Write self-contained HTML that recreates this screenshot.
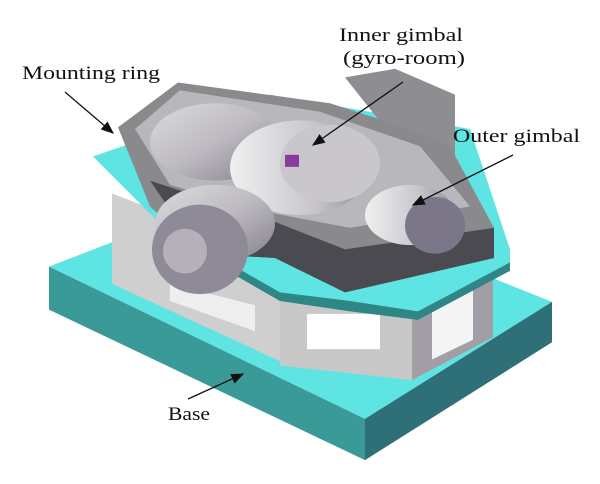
<!DOCTYPE html>
<html><head><meta charset="utf-8"><style>
html,body{margin:0;padding:0;background:#fff}
svg{display:block}
text{font-family:"Liberation Serif",serif;fill:#111}
</style></head><body>
<svg width="600" height="484" viewBox="0 0 600 484">
<defs>
<linearGradient id="cyl" x1="0" y1="0" x2="1" y2="1"><stop offset="0" stop-color="#dcdcdf"/><stop offset="0.5" stop-color="#bdbac1"/><stop offset="1" stop-color="#847f8a"/></linearGradient>
<linearGradient id="cyl2" x1="0" y1="0" x2="1" y2="0"><stop offset="0" stop-color="#f0f0f0"/><stop offset="0.6" stop-color="#c8c6cc"/><stop offset="1" stop-color="#918c99"/></linearGradient>
<marker id="ah" markerWidth="10" markerHeight="8" refX="9" refY="4" orient="auto"><path d="M0,0 L10,4 L0,8 Z" fill="#111"/></marker>
</defs>
<g transform="scale(1,0.86)">
<g>
<polygon points="49,310 260,215 552,351 365,487" fill="#5ee4e2"/>
<polygon points="49,310 365,487 365,535 49,360" fill="#3a9a98"/>
<polygon points="365,487 552,351 552,398 365,535" fill="#2f6f78"/>
</g>
<g>
<polygon points="112,225 280,300 280,420 112,330" fill="#cfcfcf"/>
<polygon points="280,345 470,310 493,320 493,392 412,442 280,425" fill="#bdbdbd"/>
<polygon points="280,345 412,365 412,442 280,425" fill="#c8c8c8"/>
<polygon points="412,365 493,320 493,392 412,442" fill="#a39ea6"/>
<rect x="307" y="365" width="73" height="41" fill="#fff"/>
<polygon points="432,350 473,330 473,395 432,418" fill="#f4f4f4"/>
<polygon points="170,330 255,355 255,385 170,350" fill="#eee"/>
</g>
<g>
<polygon points="93,182 270,110 470,150 510,290 510,305 418,362 350,350 280,340 160,260" fill="#5ee4e2"/>
<polygon points="160,260 280,340 350,350 418,362 510,305 510,315 418,372 350,362 280,350 160,270" fill="#2e8785"/>
</g>
<g>
<polygon points="345,90 395,80 455,110 455,200 420,200" fill="#8e8d92"/>
<polygon points="118,148 178,96 330,120 410,150 450,170 494,265 494,300 345,340 275,300 200,295 150,240" fill="#8a898c"/>
<polygon points="150,210 275,258 345,290 494,265 494,300 345,340 275,300 200,295" fill="#4a4a50"/>
<polygon points="135,150 180,105 320,130 420,170 470,240 350,265 260,245 170,215" fill="#b8b8bc"/>
</g>
<g>
<ellipse cx="215" cy="165" rx="65" ry="45" fill="url(#cyl)"/>
<ellipse cx="300" cy="195" rx="70" ry="55" fill="url(#cyl2)"/>
<ellipse cx="330" cy="190" rx="50" ry="45" fill="#c9c6cc"/>
<rect x="285" y="180" width="14" height="14" fill="#8a3a9a"/>
<ellipse cx="215" cy="260" rx="60" ry="45" fill="url(#cyl)"/>
<ellipse cx="200" cy="290" rx="48" ry="52" fill="#8f8a97"/>
<ellipse cx="185" cy="292" rx="22" ry="26" fill="#b5b1ba"/>
<ellipse cx="410" cy="250" rx="45" ry="35" fill="url(#cyl2)"/>
<ellipse cx="435" cy="262" rx="30" ry="33" fill="#7c7689"/>
</g>
</g>
<g>
<text x="22" y="79" font-size="19" textLength="138" lengthAdjust="spacingAndGlyphs">Mounting ring</text>
<text x="339" y="41" font-size="19" textLength="124" lengthAdjust="spacingAndGlyphs">Inner gimbal</text>
<text x="343" y="64" font-size="19" textLength="122" lengthAdjust="spacingAndGlyphs">(gyro-room)</text>
<text x="453" y="142" font-size="19" textLength="127" lengthAdjust="spacingAndGlyphs">Outer gimbal</text>
<text x="168" y="420" font-size="19" textLength="42" lengthAdjust="spacingAndGlyphs">Base</text>
</g>
<g stroke="#111" stroke-width="1.3">
<line x1="65" y1="92" x2="113" y2="133" marker-end="url(#ah)"/>
<line x1="403" y1="82" x2="313" y2="145" marker-end="url(#ah)"/>
<line x1="513" y1="155" x2="413" y2="205" marker-end="url(#ah)"/>
<line x1="188" y1="399" x2="243" y2="374" marker-end="url(#ah)"/>
</g>
</svg>
</body></html>
